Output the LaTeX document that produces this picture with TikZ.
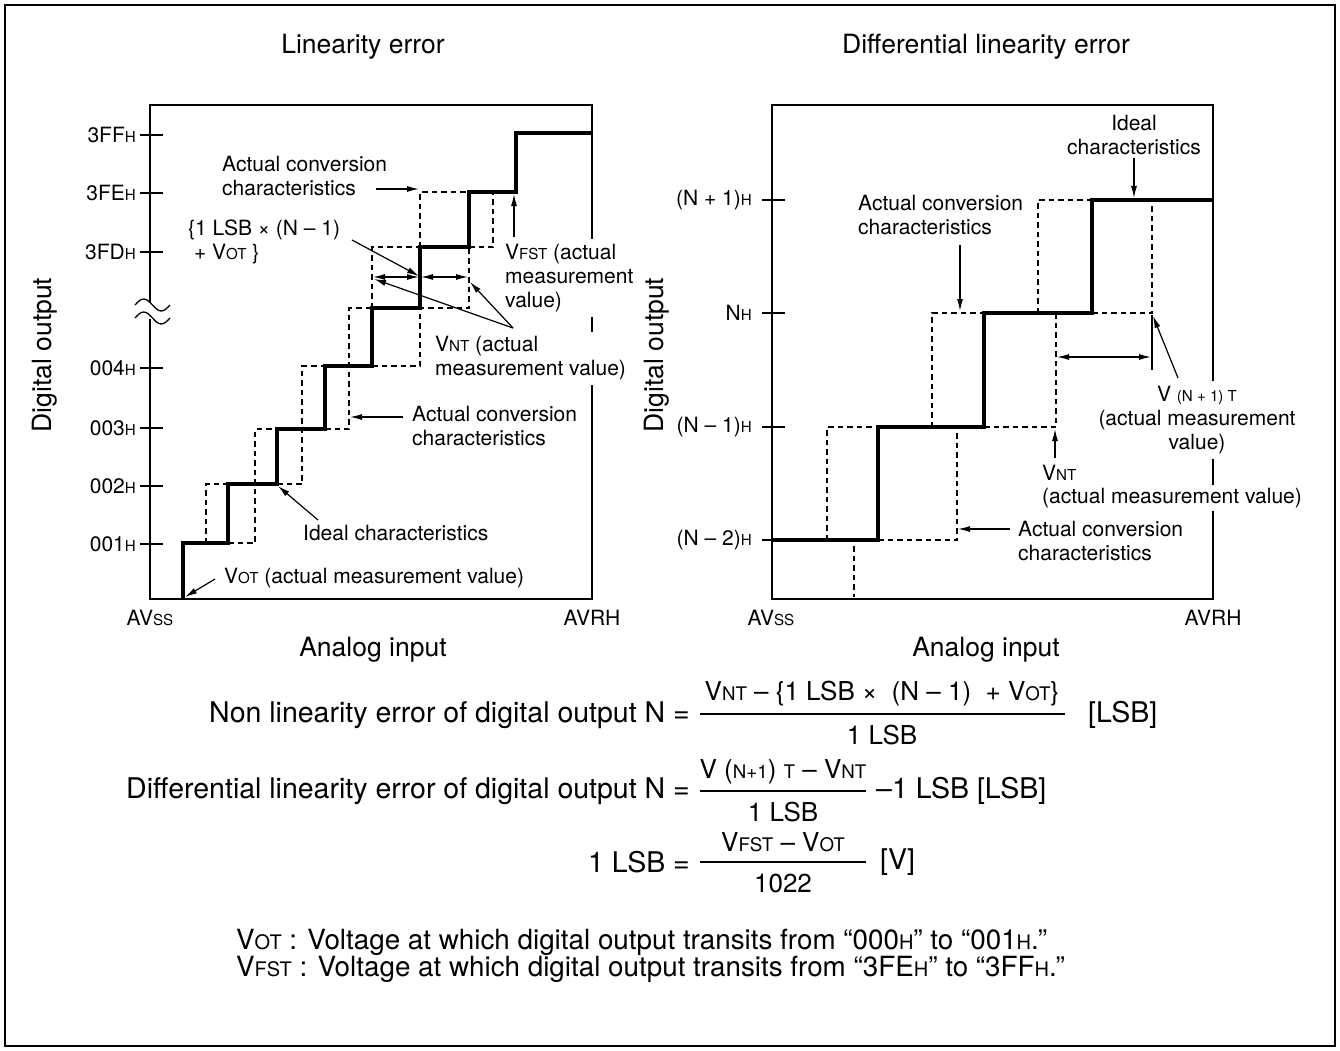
\documentclass[tikz,border=0pt]{standalone}
\usepackage{fontspec}
\setmainfont{TeX Gyre Heros}
\usetikzlibrary{arrows.meta}
\newcommand\sm[1]{\scalebox{0.72}{#1}}
\begin{document}
\begin{tikzpicture}[x=1pt,y=-1pt,
  frm/.style={line width=2.8pt},
  ideal/.style={line width=3.4pt, line join=miter},
  act/.style={line width=1.2pt, dash pattern=on 5.5pt off 4pt},
  tck/.style={line width=1.6pt},
  arr/.style={line width=1.2pt, -{Latex[length=12pt,width=6pt]}},
  darr/.style={line width=1.2pt, {Latex[length=12pt,width=6pt]}-{Latex[length=12pt,width=6pt]}},
  ann/.style={font=\fontsize{21}{24}\selectfont, inner sep=0pt, align=left},
  tl/.style={font=\fontsize{21}{24}\selectfont, inner sep=0pt},
  ttl/.style={font=\fontsize{26.5}{30}\selectfont, inner sep=0pt},
  fml/.style={font=\fontsize{28.5}{31}\selectfont, inner sep=0pt},
  frc/.style={font=\fontsize{26}{30}\selectfont, inner sep=0pt},
  nte/.style={font=\fontsize{27.8}{31}\selectfont, inner sep=0pt},
  wb/.style={fill=white, inner xsep=2pt, inner ysep=5pt}
]
\useasboundingbox (0,0) rectangle (1340,1051);
\draw[line width=1.3pt] (5,5) rectangle (1335,1046);

% ================= LEFT PLOT =================
\draw[frm] (150,105) rectangle (592,599);
% break mark on axis
\fill[white] (146,303) rectangle (154,319);
\draw[line width=1.3pt] (135,305) sin (143.75,299) cos (152.5,305) sin (161.25,311) cos (170,305);
\draw[line width=1.3pt] (135,318) sin (143.75,312) cos (152.5,318) sin (161.25,324) cos (170,318);
% ticks
\foreach \yy in {135,193,252,368,428,486,544} \draw[tck] (140,\yy) -- (163,\yy);
\node[tl,anchor=east] (l3ff) at (136,135) {3FF\sm{H}};
\node[tl,anchor=east] (l3fe) at (136,193) {3FE\sm{H}};
\node[tl,anchor=east] (l3fd) at (136,252) {3FD\sm{H}};
\node[tl,anchor=east] (l004) at (136,368) {004\sm{H}};
\node[tl,anchor=east] (l003) at (136,428) {003\sm{H}};
\node[tl,anchor=east] (l002) at (136,486) {002\sm{H}};
\node[tl,anchor=east] (l001) at (136,544) {001\sm{H}};
% ideal staircase
\draw[ideal] (183,599) -- (183,543) -- (228,543) -- (228,484) -- (277,484) -- (277,429)
  -- (325,429) -- (325,366) -- (372,366) -- (372,308) -- (420,308) -- (420,247)
  -- (469,247) -- (469,192) -- (516,192) -- (516,133) -- (592,133);
% actual (dashed)
\draw[act] (206,543) -- (206,484) -- (228,484);
\draw[act] (228,543) -- (255,543) -- (255,429) -- (277,429);
\draw[act] (277,484) -- (302,484) -- (302,366) -- (325,366);
\draw[act] (325,429) -- (349,429) -- (349,308) -- (372,308);
\draw[act] (372,366) -- (420,366) -- (420,308) -- (469,308) -- (469,247);
\draw[act] (372,308) -- (372,247) -- (420,247);
\draw[act] (420,247) -- (420,192) -- (469,192);
\draw[act] (469,247) -- (493,247) -- (493,192);
% labels
\node[ttl] (t1) at (363,47) {Linearity error};
\node[ttl,rotate=90] (yl1) at (45,355) {Digital output};
\node[ttl] (xl1) at (373,650) {Analog input};
\node[tl] (avss1) at (150,618) {AV\sm{SS}};
\node[tl] (avrh1) at (592,618) {AVRH};
\node[ann,anchor=west] (acc1) at (222,176.5) {Actual conversion\\characteristics};
\node[ann,anchor=west] (lsb1) at (188,242) {\{1 LSB × (N – 1)\\ \ + V\sm{OT} \}};
\node[ann,anchor=west,wb] (vfst) at (503,278) {V\sm{FST} (actual\\measurement\\value)};
\node[ann,anchor=west,wb] (vnt1) at (433,358.5) {V\sm{NT} (actual\\measurement value)};
\node[ann,anchor=west] (acc2) at (412,425.5) {Actual conversion\\characteristics};
\node[ann,anchor=west] (idl1) at (303,533) {Ideal characteristics};
\node[ann,anchor=west] (vot1) at (224,578) {V\sm{OT} (actual measurement value)};
% arrows
\coordinate (a1s) at (376,189); \coordinate (a1e) at (419,189);
\draw[arr] (a1s) -- (a1e);
\coordinate (a2s) at (352,240); \coordinate (a2e) at (419,276);
\draw[arr] (a2s) -- (a2e);
\coordinate (d1a) at (373,277); \coordinate (d1b) at (419,277); \coordinate (d1c) at (421,277); \coordinate (d1d) at (468,277);
\draw[darr] (d1a) -- (d1b);
\draw[darr] (d1c) -- (d1d);
\coordinate (a3s) at (513,328); \coordinate (a3e) at (374,279); \coordinate (a3f) at (470,282);
\draw[arr] (a3s) -- (a3e);
\draw[arr] (a3s) -- (a3f);
\coordinate (a4s) at (514,237); \coordinate (a4e) at (514,194);
\draw[arr] (a4s) -- (a4e);
\coordinate (a5s) at (403,417); \coordinate (a5e) at (350,417);
\draw[arr] (a5s) -- (a5e);
\coordinate (a6s) at (318,520); \coordinate (a6e) at (278,486);
\draw[arr] (a6s) -- (a6e);
\coordinate (a7s) at (215,579); \coordinate (a7e) at (185,597);
\draw[arr] (a7s) -- (a7e);

% ================= RIGHT PLOT =================
\draw[frm] (772,105) rectangle (1213,599);
\foreach \yy in {200,313,427,540} \draw[tck] (762,\yy) -- (785,\yy);
\node[tl,anchor=east] (rn1) at (752,200) {(N + 1)\sm{H}};
\node[tl,anchor=east] (rn0) at (752,313) {N\sm{H}};
\node[tl,anchor=east] (rm1) at (752,427) {(N – 1)\sm{H}};
\node[tl,anchor=east] (rm2) at (752,540) {(N – 2)\sm{H}};
\draw[ideal] (772,540) -- (878,540) -- (878,427) -- (984,427) -- (984,313) -- (1092,313)
  -- (1092,200) -- (1213,200);
\draw[act] (827,540) -- (827,427) -- (878,427);
\draw[act] (854,546) -- (854,597);
\draw[act] (878,540) -- (957,540) -- (957,427);
\draw[act] (932,427) -- (932,313) -- (984,313);
\draw[act] (984,427) -- (1056,427) -- (1056,313);
\draw[act] (1038,313) -- (1038,200) -- (1092,200);
\draw[act] (1092,313) -- (1152,313) -- (1152,200);
\draw[line width=1.2pt] (1152,315) -- (1152,370);
\node[ttl] (t2) at (986,47) {Differential linearity error};
\node[ttl,rotate=90] (yl2) at (657,355) {Digital output};
\node[ttl] (xl2) at (986,650) {Analog input};
\node[tl] (avss2) at (771,618) {AV\sm{SS}};
\node[tl] (avrh2) at (1213,618) {AVRH};
\node[ann,anchor=west] (acc3) at (858,215.5) {Actual conversion\\characteristics};
\node[ann,align=center] (idl2) at (1134,135) {Ideal\\characteristics};
\node[ann,align=center,wb] (vn1t) at (1197,420) {V \sm{(N + 1) T}\\(actual measurement\\value)};
\node[ann,anchor=west,wb,inner ysep=3pt] (vnt2) at (1040,473) {V\sm{NT}};
\node[ann,anchor=west,wb,inner ysep=3pt] (vnt2b) at (1040,498) {(actual measurement value)};
\node[ann,anchor=west] (acc4) at (1018,540.5) {Actual conversion\\characteristics};
\coordinate (b1s) at (960,245); \coordinate (b1e) at (960,311);
\draw[arr] (b1s) -- (b1e);
\coordinate (b2s) at (1134,158); \coordinate (b2e) at (1134,198);
\draw[arr] (b2s) -- (b2e);
\coordinate (bd1) at (1057,357); \coordinate (bd2) at (1151,357);
\draw[darr] (bd1) -- (bd2);
\coordinate (b3s) at (1178,378); \coordinate (b3e) at (1153,316);
\draw[arr] (b3s) -- (b3e);
\coordinate (b4s) at (1055,458); \coordinate (b4e) at (1055,429);
\draw[arr] (b4s) -- (b4e);
\coordinate (b5s) at (1010,529); \coordinate (b5e) at (958,529);
\draw[arr] (b5s) -- (b5e);

% ================= FORMULAS =================
\node[fml,anchor=east] (f1) at (690,715) {Non linearity error of digital output N =};
\coordinate (f1a) at (700,714); \coordinate (f1b) at (1065,714);
\draw[line width=1.4pt] (f1a) -- (f1b);
\node[frc] (f1n) at (882,694) {V\sm{NT} – \{1 LSB × \ (N – 1) \ + V\sm{OT}\}};
\node[frc] (f1d) at (882,735) {1 LSB};
\node[fml,anchor=west] (f1u) at (1088,715) {[LSB]};

\node[fml,anchor=east] (f2) at (690,791) {Differential linearity error of digital output N =};
\coordinate (f2a) at (700,791); \coordinate (f2b) at (866,791);
\draw[line width=1.4pt] (f2a) -- (f2b);
\node[frc] (f2n) at (783,772) {V (\sm{N+1}) \sm{T} – V\sm{NT}};
\node[frc] (f2d) at (783,812) {1 LSB};
\node[fml,anchor=west] (f2u) at (876,791) {–1 LSB [LSB]};

\node[fml,anchor=east] (f3) at (690,862) {1 LSB =};
\coordinate (f3a) at (700,862); \coordinate (f3b) at (866,862);
\draw[line width=1.4pt] (f3a) -- (f3b);
\node[frc] (f3n) at (783,842) {V\sm{FST} – V\sm{OT}};
\node[frc] (f3d) at (783,883) {1022};
\node[fml,anchor=west] (f3u) at (880,862) {[V]};

\node[nte,anchor=west] (n1) at (236,942) {V\sm{OT} : Voltage at which digital output transits from “000\sm{H}” to “001\sm{H}.”};
\node[nte,anchor=west] (n2) at (236,969) {V\sm{FST} : Voltage at which digital output transits from “3FE\sm{H}” to “3FF\sm{H}.”};
\end{tikzpicture}
\end{document}
